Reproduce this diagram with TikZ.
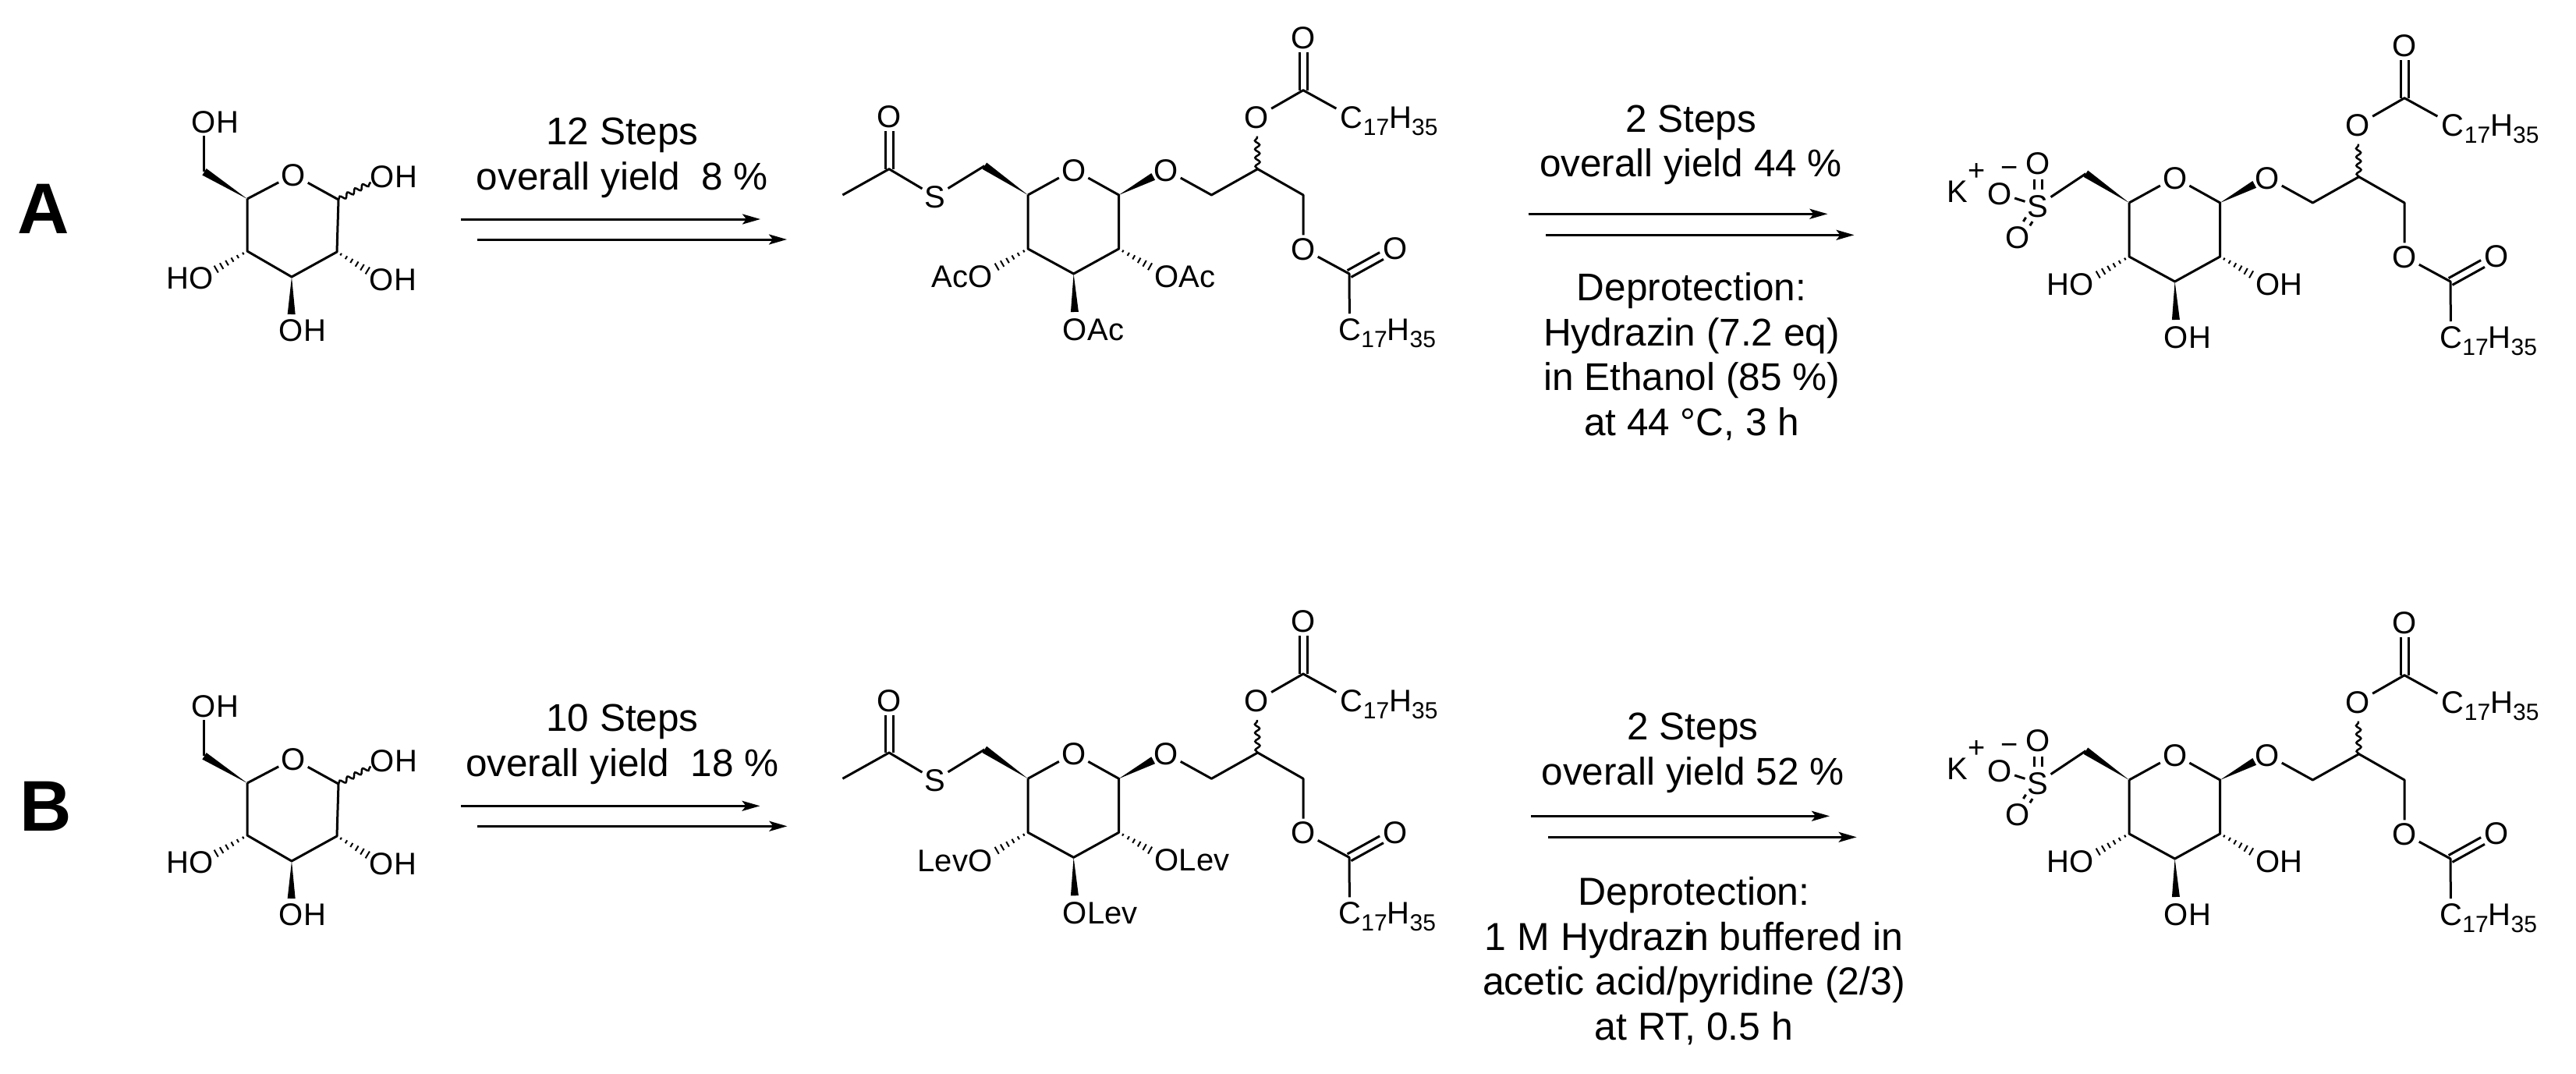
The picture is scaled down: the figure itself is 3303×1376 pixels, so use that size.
\documentclass[tikz,border=0pt]{standalone}
\usepackage{fontspec}
\setmainfont{Liberation Sans}
\usetikzlibrary{arrows.meta,calc,decorations.pathmorphing,positioning}

% Solid wedge from an atom towards another one, cut to a given length
\newcommand{\wedgebond}[3]{
  \fill ($(#1)!#3pt!(#2.center)!5pt!90:(#1)$) -- (#1) -- ($(#1)!#3pt!(#2.center)!5pt!-90:(#1)$) -- cycle;
}
% Hashed bond, ticks widen away from the first atom
\newcommand{\hashbond}[2]{
  \foreach \d in {6,14,...,46} {
    \pgfmathsetmacro{\hw}{1+0.09*\d}
    \draw[hashtick] ($(#1)!\d pt!(#2.center)!\hw pt!90:(#1)$) -- ($(#1)!\d pt!(#2.center)!\hw pt!-90:(#1)$);
  }
}
% Wavy bond, cut to a given length
\newcommand{\wavybond}[3]{
  \draw[wavyline] (#1) -- ($(#1)!#3pt!(#2.center)$);
}
% Double bond, both ends can be pulled back
\newcommand{\dblbond}[4]{
  \draw[bond,shorten <=#3pt,shorten >=#4pt] ($(#1.center)!5pt!90:(#2.center)$) -- ($(#2.center)!5pt!-90:(#1.center)$);
  \draw[bond,shorten <=#3pt,shorten >=#4pt] ($(#1.center)!5pt!-90:(#2.center)$) -- ($(#2.center)!5pt!90:(#1.center)$);
}
\newcommand{\alkyl}{\raisebox{-9pt}{\fontsize{30}{30}\selectfont 17}H\raisebox{-9pt}{\fontsize{30}{30}\selectfont 35}}

\tikzset{
  bond/.style={line width=3pt,line join=round},
  hashtick/.style={line width=2pt},
  wavyline/.style={line width=2.5pt,decorate,decoration={snake,segment length=11pt,amplitude=3pt}},
  atom/.style={inner sep=3pt,text height=29pt,text depth=0pt,font=\fontsize{40}{40}\selectfont},
  group/.style={atom,inner xsep=0pt},
  charge/.style={inner sep=0pt,font=\fontsize{38}{38}\selectfont},
  panel/.style={inner sep=0pt,anchor=base,font=\fontsize{92}{92}\selectfont\bfseries},
  rxn/.style={inner sep=0pt,anchor=base,align=center,font=\fontsize{49.5}{57.5}\selectfont},
  rxnarrow/.style={line width=3pt,-{Stealth[length=23pt,width=13pt,inset=5pt]}},
  % free sugar on the left
  pics/hexose/.style={code={
    \coordinate (c5) at (0,0);
    \coordinate (c1) at (117,1);
    \coordinate (c2) at (115,68);
    \coordinate (c3) at (57,100);
    \coordinate (c4) at (0,67);
    \coordinate (c6) at (-55.5,-35);
    \node[atom] (ro) at (59,-31) {O};
    \node[atom] (o6) at (-55.5,-99) {O};
    \node[group,right=-3pt of o6] (h6) {H};
    \node[atom] (o1) at (173.5,-29) {O};
    \node[group,right=-3pt of o1] (h1) {H};
    \node[atom] (o2) at (172.5,103) {O};
    \node[group,right=-3pt of o2] (h2) {H};
    \node[atom] (o3) at (56.5,168) {O};
    \node[group,right=-3pt of o3] (h3) {H};
    \node[atom] (o4) at (-58.5,101) {O};
    \node[group,left=-3pt of o4] (h4) {H};
    \draw[bond] (c5) -- (ro) -- (c1) -- (c2) -- (c3) -- (c4) -- (c5);
    \draw[bond] (c6) -- (o6);
    \wedgebond{c5}{c6}{65}
    \wavybond{c1}{o1}{47}
    \hashbond{c2}{o2}
    \wedgebond{c3}{o3}{48}
    \hashbond{c4}{o4}
  }},
  % sugar with the diacyl glycerol, #1 sits on the three ring oxygens
  pics/glycolipid/.style={code={
    \coordinate (c5) at (0,0);
    \coordinate (c1) at (116.6,0);
    \coordinate (c2) at (116.6,69);
    \coordinate (c3) at (58.6,101);
    \coordinate (c4) at (0,69);
    \coordinate (c6) at (-55.6,-37.3);
    \coordinate (g1) at (235.4,0);
    \coordinate (g2) at (294.6,-33.3);
    \coordinate (g3) at (353,0);
    \coordinate (e1) at (353,-134.3);
    \coordinate (e3) at (412,101);
    \node[atom] (ro) at (58.6,-32.3) {O};
    \node[atom] (o1) at (177,-32.3) {O};
    \node[atom] (o2) at (178,104) {O};
    \node[group,right=-3pt of o2] (p2) {#1};
    \node[atom] (o3) at (60.5,171.7) {O};
    \node[group,right=-3pt of o3] (p3) {#1};
    \node[atom] (o4) at (-61,104.3) {O};
    \node[group,left=-3pt of o4] (p4) {#1};
    \node[atom] (og2) at (293.4,-100) {O};
    \node[atom] (oe1) at (353,-202.3) {O};
    \node[atom,inner sep=5pt] (ca) at (415,-100) {C};
    \node[group,right=-5pt of ca] (ha) {\alkyl};
    \node[atom] (og3) at (353,69) {O};
    \node[atom] (oe3) at (471,68.3) {O};
    \node[atom,inner sep=5pt] (cb) at (412.5,171.7) {C};
    \node[group,right=-5pt of cb] (hb) {\alkyl};
    \draw[bond] (c5) -- (ro) -- (c1) -- (c2) -- (c3) -- (c4) -- (c5);
    \wedgebond{c5}{c6}{67}
    \wedgebond{c1}{o1}{50}
    \hashbond{c2}{o2}
    \wedgebond{c3}{o3}{49}
    \hashbond{c4}{o4}
    % glycerol and the two esters
    \draw[bond] (o1) -- (g1) -- (g2) -- (g3) -- (og3) -- (e3) -- (cb);
    \wavybond{g2}{og2}{42}
    \draw[bond] (og2) -- (e1) -- (ca);
    \dblbond{e1}{oe1}{0}{19}
    \dblbond{e3}{oe3}{0}{20}
  }},
  pics/thioester/.style={code={
    \coordinate (c6) at (0,0);
    \coordinate (ac) at (-122.4,4);
    \coordinate (me) at (-182,37.3);
    \node[atom] (s) at (-63.4,39) {S};
    \node[atom] (oa) at (-122.4,-63.4) {O};
    \draw[bond] (c6) -- (s) -- (ac) -- (me);
    \dblbond{ac}{oa}{0}{19}
  }},
  pics/sulfonate/.style={code={
    \coordinate (c6) at (0,0);
    \node[atom] (s) at (-61.4,41) {S};
    \node[atom] (ou) at (-61.4,-14) {O};
    \node[atom] (ol) at (-87,81.7) {O};
    \node[atom] (om) at (-110,25.3) {O};
    \node[atom] (k) at (-164.4,22) {K};
    \node[charge] (kp) at (-140,-2.3) {+};
    \node[charge] (om-) at (-98,-2.3) {−};
    \draw[bond] (c6) -- (s) -- (om);
    \dblbond{s}{ou}{21}{21}
    \dblbond{s}{ol}{21}{21}
  }}
}

\begin{document}
\begin{tikzpicture}[x=1pt,y=-1pt]
  \useasboundingbox (0,0) rectangle (3303,1376);

  % Row A
  \node[panel] (labela) at (56,299) {A};
  \pic (sa) at (317,255) {hexose};
  \node[rxn] (yielda1) at (798,243) {12 Steps\\overall yield\ \ 8 \%};
  \coordinate (a1s) at (591,281);
  \coordinate (a1e) at (975,281);
  \coordinate (a2s) at (612,307);
  \coordinate (a2e) at (1009,307);
  \draw[rxnarrow] (a1s) -- (a1e);
  \draw[rxnarrow] (a2s) -- (a2e);

  \pic (ma) at (1318,250) {glycolipid=Ac};
  \pic (ta) at (mac6) {thioester};
  \node[rxn] (yielda2) at (2168,226.7) {2 Steps\\overall yield 44 \%};
  \coordinate (a3s) at (1959.6,274.3);
  \coordinate (a3e) at (2343.4,274.3);
  \coordinate (a4s) at (1982.2,301.3);
  \coordinate (a4e) at (2377.5,301.3);
  \draw[rxnarrow] (a3s) -- (a3e);
  \draw[rxnarrow] (a4s) -- (a4e);
  \node[rxn] (depa) at (2169,558.3) {Deprotection:\\Hydrazin (7.2 eq)\\in Ethanol (85 \%)\\at 44 °C, 3 h};
  \pic (ra) at (2730,260) {glycolipid=H};
  \pic (ka) at (rac6) {sulfonate};

  % Row B
  \node[panel] (labelb) at (59,1065) {B};
  \pic (sb) at (317,1004) {hexose};
  \node[rxn] (yieldb1) at (798,995) {10 Steps\\overall yield\ \ 18 \%};
  \coordinate (b1s) at (591.4,1033.3);
  \coordinate (b1e) at (974.5,1033.3);
  \coordinate (b2s) at (612.2,1059.3);
  \coordinate (b2e) at (1009.4,1059.3);
  \draw[rxnarrow] (b1s) -- (b1e);
  \draw[rxnarrow] (b2s) -- (b2e);

  \pic (mb) at (1318,998.3) {glycolipid=Lev};
  \pic (tb) at (mbc6) {thioester};
  \node[rxn] (yieldb2) at (2170.5,1006) {2 Steps\\overall yield 52 \%};
  \coordinate (b3s) at (1963,1046.3);
  \coordinate (b3e) at (2346,1046.3);
  \coordinate (b4s) at (1984.9,1073.3);
  \coordinate (b4e) at (2380.6,1073.3);
  \draw[rxnarrow] (b3s) -- (b3e);
  \draw[rxnarrow] (b4s) -- (b4e);
  \node[rxn,font=\fontsize{50}{57.5}\selectfont] (depb) at (2172,1333.3) {Deprotection:\\1 M Hydrazi\kern-.15em n buffered in\\acetic acid/pyridine (2/3)\\at RT, 0.5 h};
  \pic (rb) at (2730,1000) {glycolipid=H};
  \pic (kb) at (rbc6) {sulfonate};
\end{tikzpicture}
\end{document}
